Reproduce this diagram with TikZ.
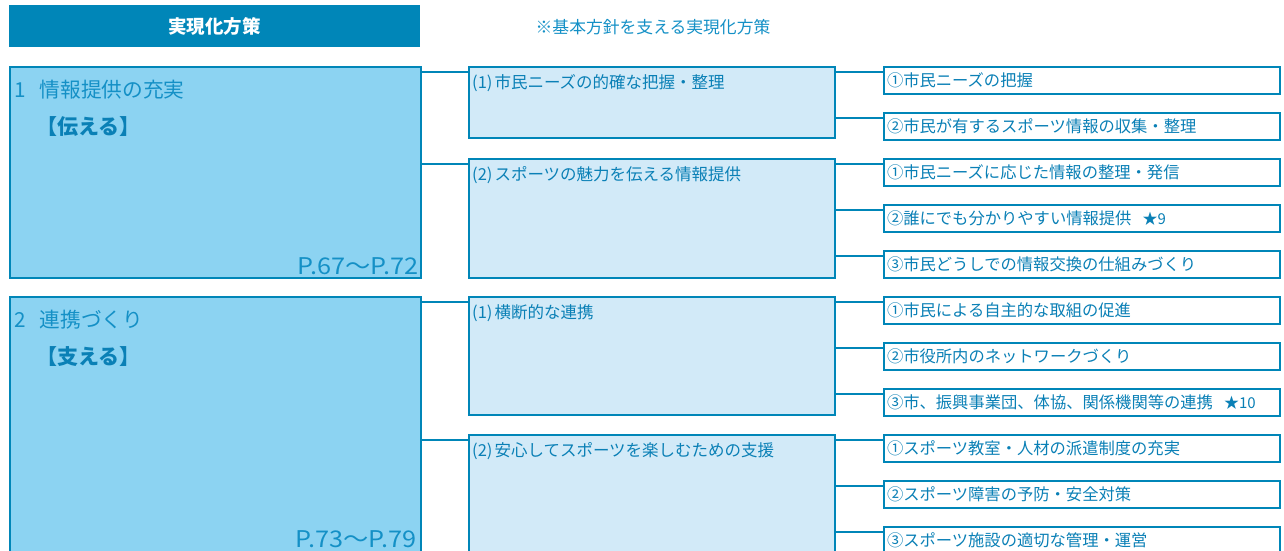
\documentclass[tikz,border=0pt]{standalone}
\usepackage{fontspec}
\setmainfont{Noto Sans CJK JP}
\definecolor{bord}{HTML}{0086B8}
\definecolor{fillA}{HTML}{8CD3F2}
\definecolor{fillB}{HTML}{D2EAF8}
\definecolor{txt}{HTML}{0A80B6}
\definecolor{notec}{HTML}{1490C6}
\begin{document}
\begin{tikzpicture}[x=1pt,y=-1pt,
  header/.style={fill=bord, draw=none, anchor=north west, inner sep=0pt, minimum width=411pt, minimum height=42pt, text=white, font=\fontsize{18.5pt}{20pt}\selectfont\bfseries},
  bigbox/.style={draw=bord, fill=fillA, line width=2pt, anchor=north west, inner sep=0pt, minimum width=411pt},
  midbox/.style={draw=bord, fill=fillB, line width=2pt, anchor=north west, inner sep=0pt, minimum width=366pt},
  rbox/.style={draw=bord, fill=white, line width=2pt, anchor=north west, inner xsep=3pt, inner ysep=0pt, text width=390pt, minimum height=27pt, align=left, text=txt, font=\fontsize{16.3pt}{18pt}\selectfont},
  midtxt/.style={anchor=west, inner sep=0pt, text=txt, font=\fontsize{16.5pt}{18pt}\selectfont},
  bigtxt/.style={anchor=west, inner sep=0pt, text=notec, font=\fontsize{20.7pt}{22pt}\selectfont},
  bigbold/.style={anchor=west, inner sep=0pt, text=txt, font=\fontsize{21pt}{22pt}\selectfont\bfseries},
  pagetxt/.style={anchor=east, inner sep=0pt, text=notec, font=\fontsize{23pt}{24pt}\selectfont},
  conn/.style={draw=bord, line width=2pt}]
\useasboundingbox (0,0) rectangle (1284,550);
\clip (0,0) rectangle (1284,550);

% header
\node[header] (hd) at (9,5) {実現化方策};
\node[anchor=center, inner sep=0pt, text=notec, font=\fontsize{16.8pt}{18pt}\selectfont] (note) at (653,27) {※基本方針を支える実現化方策};

% big boxes
\node[bigbox, minimum height=211pt] (b1) at (9,66) {};
\node[bigbox, minimum height=290pt] (b2) at (9,296) {};
\node[bigtxt] (b1t) at ([xshift=5pt,yshift=-24pt]b1.north west) {1\hspace{14pt}情報提供の充実};
\node[bigbold] (b1s) at ([xshift=27pt,yshift=-61pt]b1.north west) {【伝える】};
\node[pagetxt] (b1p) at ([xshift=-3pt,yshift=13pt]b1.south east) {\scalebox{1.1}[1]{P.67～P.72}};
\node[bigtxt] (b2t) at ([xshift=5pt,yshift=-24pt]b2.north west) {2\hspace{14pt}連携づくり};
\node[bigbold] (b2s) at ([xshift=27pt,yshift=-61pt]b2.north west) {【支える】};
\node[pagetxt] (b2p) at (417,539) {\scalebox{1.1}[1]{P.73～P.79}};

% middle boxes
\node[midbox, minimum height=71pt] (m1) at (468,66) {};
\node[midbox, minimum height=119pt] (m2) at (468,158) {};
\node[midbox, minimum height=118pt] (m3) at (468,296) {};
\node[midbox, minimum height=150pt] (m4) at (468,434) {};
\node[midtxt] (m1t) at ([xshift=4pt,yshift=-17pt]m1.north west) {(1)\hspace{2pt}市民ニーズの的確な把握・整理};
\node[midtxt] (m2t) at ([xshift=4pt,yshift=-17pt]m2.north west) {(2)\hspace{2pt}スポーツの魅力を伝える情報提供};
\node[midtxt] (m3t) at ([xshift=4pt,yshift=-17pt]m3.north west) {(1)\hspace{2pt}横断的な連携};
\node[midtxt] (m4t) at ([xshift=4pt,yshift=-17pt]m4.north west) {(2)\hspace{2pt}安心してスポーツを楽しむための支援};

% right boxes
\node[rbox] (r1) at (883,66) {①市民ニーズの把握};
\node[rbox] (r2) at (883,112) {②市民が有するスポーツ情報の収集・整理};
\node[rbox] (r3) at (883,158) {①市民ニーズに応じた情報の整理・発信};
\node[rbox] (r4) at (883,204) {②誰にでも分かりやすい情報提供\hspace{11pt}{\fontsize{15pt}{15pt}\selectfont ★9}};
\node[rbox] (r5) at (883,250) {③市民どうしでの情報交換の仕組みづくり};
\node[rbox] (r6) at (883,296) {①市民による自主的な取組の促進};
\node[rbox] (r7) at (883,342) {②市役所内のネットワークづくり};
\node[rbox] (r8) at (883,388) {③市、振興事業団、体協、関係機関等の連携\hspace{11pt}{\fontsize{15pt}{15pt}\selectfont ★10}};
\node[rbox] (r9) at (883,434) {①スポーツ教室・人材の派遣制度の充実};
\node[rbox] (r10) at (883,480) {②スポーツ障害の予防・安全対策};
\node[rbox] (r11) at (883,526) {③スポーツ施設の適切な管理・運営};

% connectors big -> middle
\foreach \m/\b in {m1/b1, m2/b1, m3/b2, m4/b2}{
  \coordinate (c\m) at ([yshift=-6pt]\m.north west);
  \draw[conn] (\b.east |- c\m) -- (c\m);
}
% connectors middle -> right
\foreach \r/\m in {r1/m1, r2/m1, r3/m2, r4/m2, r5/m2, r6/m3, r7/m3, r8/m3, r9/m4, r10/m4, r11/m4}{
  \coordinate (c\r) at ([yshift=-6pt]\r.north west);
  \draw[conn] (\m.east |- c\r) -- (c\r);
}
\end{tikzpicture}
\end{document}
